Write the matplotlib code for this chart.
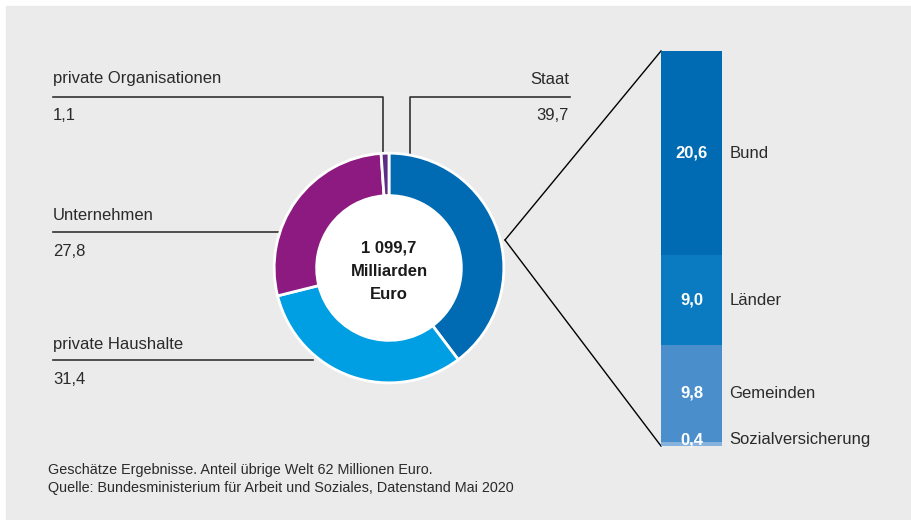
import matplotlib.pyplot as plt
from matplotlib.patches import Rectangle

plt.rcParams['font.family'] = ['Liberation Sans', 'DejaVu Sans']

# donut data (Milliarden Euro share in %)
sectors = ['Staat', 'private Haushalte', 'Unternehmen', 'private Organisationen']
shares = [39.7, 31.4, 27.8, 1.1]
sector_colors = ['#006ab3', '#009fe3', '#8c1a80', '#5e2d86']
total_label = '1 099,7\nMilliarden\nEuro'

# state breakdown
state_parts = ['Bund', 'Länder', 'Gemeinden', 'Sozialversicherung']
state_values = [20.6, 9.0, 9.8, 0.4]
state_colors = ['#006ab3', '#0a7bc1', '#4a8fcc', '#86b2de']

W, H = 912, 520
fig = plt.figure(figsize=(W / 100, H / 100), dpi=100)
fig.patch.set_facecolor('white')

def px_rect(x0, y0, x1, y1):
    # figure fraction rectangle from pixel box (top-left origin)
    return [x0 / W, 1 - y1 / H, (x1 - x0) / W, (y1 - y0) / H]

# base axes in pixel coordinates
ax = fig.add_axes([0, 0, 1, 1])
ax.set_xlim(0, W)
ax.set_ylim(H, 0)
ax.axis('off')
ax.add_patch(Rectangle((6, 6), W + 10, H + 10, color='#ebebeb', zorder=0, clip_on=False))

# donut
cx, cy, r = 389, 268, 116
dax = fig.add_axes(px_rect(cx - r, cy - r, cx + r, cy + r))
dax.pie(shares, colors=sector_colors, startangle=90, counterclock=False,
        radius=1, wedgeprops=dict(width=0.37, edgecolor='white', linewidth=2))
dax.add_patch(plt.Circle((0, 0), 0.63, color='white', zorder=0))
dax.set_xlim(-1.01, 1.01)
dax.set_ylim(-1.01, 1.01)
dax.axis('off')
dax.text(0, -0.03, total_label, ha='center', va='center', fontsize=12,
         fontweight='bold', linespacing=1.7, color='#1a1a1a')

tc = '#2a2a2a'
fs = 12

# stacked bar for Staat
bx0, by0, bx1, by1 = 661, 51, 722, 446
bax = fig.add_axes(px_rect(bx0, by0, bx1, by1))
bottom = 0
for name, val, col in zip(state_parts, state_values, state_colors):
    bax.bar(0, val, bottom=bottom, width=1, color=col)
    mid = bottom + val / 2
    if val < 1:
        mid = bottom - 0.25
    bax.text(0, mid, f'{val:.1f}'.replace('.', ','), ha='center', va='center',
             color='white', fontsize=12, fontweight='bold')
    bax.text(0.62, mid, name, ha='left', va='center', color=tc,
             fontsize=fs, clip_on=False)
    bottom += val
bax.set_xlim(-0.5, 0.5)
bax.set_ylim(bottom, 0)
bax.axis('off')

# connector lines to bar
ax.plot([505, bx0], [240, by0], color='black', lw=1)
ax.plot([505, bx0], [240, by1], color='black', lw=1)

# leader lines and labels
lc = '#333333'
ax.plot([53, 383, 383], [97, 97, 155], color=lc, lw=1.2)
ax.plot([570, 410, 410], [97, 97, 157], color=lc, lw=1.2)
ax.plot([53, 279], [232, 232], color=lc, lw=1.2)
ax.plot([53, 313], [360, 360], color=lc, lw=1.2)

ax.text(53, 79, 'private Organisationen', fontsize=fs, color=tc, va='center')
ax.text(53, 116, '1,1', fontsize=fs, color=tc, va='center')
ax.text(569, 79, 'Staat', fontsize=fs, color=tc, va='center', ha='right')
ax.text(569, 116, '39,7', fontsize=fs, color=tc, va='center', ha='right')
ax.text(53, 215, 'Unternehmen', fontsize=fs, color=tc, va='center')
ax.text(53, 251, '27,8', fontsize=fs, color=tc, va='center')
ax.text(53, 344, 'private Haushalte', fontsize=fs, color=tc, va='center')
ax.text(53, 380, '31,4', fontsize=fs, color=tc, va='center')

ax.text(48, 470, 'Geschätze Ergebnisse. Anteil übrige Welt 62 Millionen Euro.',
        fontsize=10.4, color=tc, va='center')
ax.text(48, 488, 'Quelle: Bundesministerium für Arbeit und Soziales, Datenstand Mai 2020',
        fontsize=10.4, color=tc, va='center')

fig.savefig('out.png', dpi=100, facecolor=fig.get_facecolor())
